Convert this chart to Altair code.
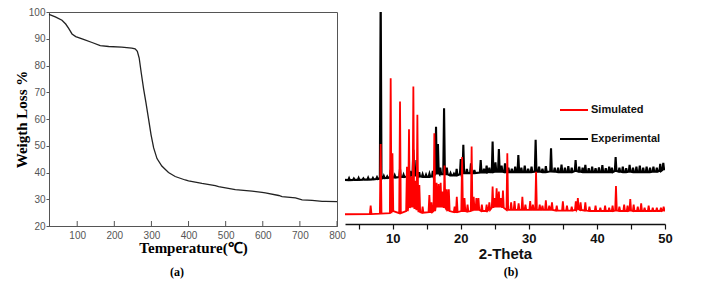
import altair as alt
import pandas as pd

# ---------------- Panel (a): TGA curve ----------------
temp_c = [24, 41, 59, 69, 77, 86, 96, 117, 140, 162, 185, 220, 247, 256, 262, 267, 272.5,
          279, 285, 292, 299, 306, 315, 328, 346, 364, 391, 400, 436, 472, 481, 526, 571,
          598, 607, 643, 652, 688, 706, 733, 760, 769, 800]
weight_pct = [99.1, 98.2, 96.9, 95.5, 93.9, 91.8, 90.8, 89.8, 88.6, 87.4, 87.1, 86.9, 86.5,
              86.2, 85.3, 82.8, 77.3, 71.2, 66.3, 60.2, 54.1, 49.2, 45.2, 42.4, 40.0, 38.5,
              37.2, 36.9, 35.9, 35.1, 34.7, 33.6, 33.0, 32.6, 32.4, 31.4, 31.0, 30.5, 29.8,
              29.6, 29.2, 29.2, 29.1]
temp_ticks = [100, 200, 300, 400, 500, 600, 700, 800]
weight_ticks = [20, 30, 40, 50, 60, 70, 80, 90, 100]

# ---------------- Panel (b): XRD patterns (peak position, apex, local base) ----------------
sim_pos = [6.77, 8.24, 9.71, 9.97, 11.08, 12.1, 12.4, 12.72, 13.04, 13.32, 13.63, 13.92, 14.4,
           15.39, 15.7, 16.12, 16.45, 16.75, 17.05, 17.35, 17.62, 17.95, 18.25, 19.1, 19.42,
           20.2, 20.55, 21.0, 21.6, 21.9, 22.3, 22.6, 23.1, 23.8, 24.2, 24.68, 24.98, 25.27,
           25.6, 25.9, 26.2, 26.84, 27.4, 27.9, 28.5, 29.05, 29.5, 30.2, 30.6, 31.06, 31.6,
           32.0, 32.5, 33.0, 33.4, 34.1, 35.0, 35.6, 36.3, 36.9, 37.2, 37.6, 38.3, 38.9, 39.8,
           40.5, 41.2, 41.8, 42.3, 42.8, 43.3, 44.0, 44.5, 44.9, 45.4, 46.0, 46.5, 47.0, 47.6,
           48.2, 48.8, 49.4, 49.8]
sim_peak = [8.5, 37, 67.4, 32.7, 56.6, 26.5, 43.8, 22, 63.6, 20, 50.5, 18, 8,
            13.4, 10, 42, 19, 18.5, 19, 15, 27, 16, 16, 8, 12.6,
            31, 12, 9, 35.8, 12.6, 12, 12, 9, 9, 10, 17.3, 12, 16.5,
            15, 12, 15.5, 32.7, 10, 10.6, 9.5, 12.6, 9, 10.6, 9, 24.2, 9,
            8.5, 11, 8.5, 10, 8.5, 10.5, 8.5, 8, 10.5, 12, 10, 10, 8, 8.5,
            7.5, 8.5, 7.5, 8.5, 17.6, 8, 9, 8.5, 11.5, 9, 8, 9.5, 7.5, 8.5,
            7.5, 7.5, 7.5, 8]
sim_base = [4.6, 4.8, 5.0, 6.0, 5.0, 6.0, 7.5, 8.0, 8.0, 7.0, 6.5, 5.5, 5.2,
            5.5, 5.5, 6.0, 8.0, 8.0, 8.0, 8.0, 7.5, 7.0, 6.0, 5.5, 5.5,
            6.0, 6.0, 5.8, 6.0, 6.5, 6.5, 6.5, 6.0, 6.0, 6.5, 7.5, 8.0, 8.0,
            8.0, 8.0, 7.5, 6.5, 6.5, 6.5, 6.5, 6.5, 6.5, 6.5, 6.5, 6.5, 6.5,
            6.5, 6.5, 6.5, 6.5, 6.2, 6.2, 6.2, 6.2, 6.5, 6.8, 6.5, 6.2, 6.0, 6.0,
            6.0, 6.0, 6.0, 6.0, 6.2, 6.0, 6.0, 6.0, 6.2, 6.0, 6.0, 6.0, 6.0, 6.0,
            6.0, 6.0, 6.0, 6.2]
sim_ends = [(3.0, 4.5), (50.0, 6.2)]

exp_pos = [3.6, 4.3, 5.0, 5.7, 6.4, 7.1, 7.7, 8.24, 8.7, 9.2, 9.71, 10.3, 11.08, 11.6, 12.3,
           12.6, 13.04, 13.5, 13.9, 14.4, 14.9, 15.4, 15.9, 16.37, 16.65, 17.0, 17.55, 17.95,
           18.5, 19.0, 19.4, 20.0, 20.38, 20.9, 21.5, 22.0, 22.93, 23.4, 23.8, 24.2, 24.68,
           25.1, 25.6, 26.0, 26.5, 27.0, 27.5, 28.0, 28.46, 28.9, 29.4, 29.9, 30.4, 31.0,
           31.5, 32.0, 32.5, 33.26, 33.8, 34.3, 34.8, 35.3, 35.8, 36.3, 36.87, 37.4, 37.9,
           38.3, 38.8, 39.3, 39.8, 40.3, 40.8, 41.3, 41.8, 42.2, 42.75, 43.3, 43.8, 44.3,
           44.8, 45.3, 45.8, 46.3, 46.8, 47.3, 47.8, 48.3, 48.8, 49.3, 49.75]
exp_peak = [21.2, 21.0, 21.3, 21.1, 21.4, 21.3, 21.6, 110, 22.2, 22.0, 25.0, 22.5, 25.5, 22.8, 26,
            24.5, 34.3, 29.6, 24.0, 23.0, 22.8, 23.2, 24.5, 45, 37, 26, 53.5, 26,
            23.5, 23.2, 25.5, 30, 36.6, 25.5, 28, 25, 29.6, 25.5, 27, 26, 38.1,
            28.5, 34.6, 27, 28, 26, 25.5, 26.5, 31.9, 26, 27, 25.5, 26.5, 38.9,
            26.5, 25.5, 26.8, 35, 26, 26, 27.5, 26, 26.8, 26, 29.6, 26.5, 26,
            27.3, 25.8, 26.5, 25.8, 26.2, 27.2, 25.8, 26.5, 26, 30.9, 26, 26.5, 25.8,
            27.3, 26, 26.5, 27, 26, 26.5, 26, 26.5, 26, 27.8, 28.3]
exp_base = [20.3, 20.4, 20.4, 20.5, 20.5, 20.6, 20.8, 21.0, 21.2, 21.3, 21.5, 21.5, 21.7, 21.7, 22.0,
            22.3, 22.5, 22.5, 22.0, 21.8, 21.8, 21.8, 22.0, 23.0, 23.5, 23.0, 23.0, 23.0,
            22.5, 22.5, 22.5, 23.0, 23.5, 23.5, 23.5, 23.5, 23.8, 23.8, 23.8, 24.0, 24.0,
            24.2, 24.2, 24.2, 24.0, 24.0, 24.0, 24.0, 24.0, 24.0, 24.0, 24.0, 24.0, 24.2,
            24.2, 24.0, 24.0, 24.3, 24.2, 24.0, 24.0, 24.0, 24.0, 24.0, 24.5, 24.2, 24.0,
            24.0, 24.0, 24.0, 24.0, 24.0, 24.0, 24.0, 24.0, 24.0, 24.5, 24.2, 24.0, 24.0,
            24.2, 24.0, 24.0, 24.0, 24.0, 24.0, 24.0, 24.2, 24.2, 24.5, 25.0]
exp_ends = [(3.0, 20.4), (50.0, 26.0)]

theta_ticks = [5, 10, 15, 20, 25, 30, 35, 40, 45, 50]
series_names = ["Simulated", "Experimental"]
series_colors = ["#ff0000", "#000000"]


def pattern(name, ends, pos, peak, base, half=0.12):
    xs, ys = [ends[0][0]], [ends[0][1]]
    for p, h, b in zip(pos, peak, base):
        xs += [p - half, p, p + half]
        ys += [b, h, b]
    xs.append(ends[1][0])
    ys.append(ends[1][1])
    return pd.DataFrame({"theta": xs, "intensity": ys, "series": name})


sim_df = pattern("Simulated", sim_ends, sim_pos, sim_peak, sim_base)
exp_df = pattern("Experimental", exp_ends, exp_pos, exp_peak, exp_base)

SERIF = "Liberation Serif"
SANS = "Liberation Sans"

# ---------- panel (a) ----------
WA, HA = 288, 214
a_df = pd.DataFrame({"T": temp_c, "W": weight_pct})
xa = alt.X("T:Q", scale=alt.Scale(domain=[24, 800], nice=False, zero=False),
           axis=alt.Axis(values=temp_ticks, title="Temperature(℃)", labelFont=SANS,
                         labelFontSize=10, labelColor="#555555", labelFlush=False,
                         tickSize=0, labelPadding=4, domainColor="#555555",
                         titleFont=SERIF, titleFontSize=15, titleFontWeight="bold",
                         titleColor="#000000", titlePadding=0))
line_a = alt.Chart(a_df).mark_line(color="#222222", strokeWidth=1.3).encode(
    x=xa,
    y=alt.Y("W:Q", scale=alt.Scale(domain=[20, 100], nice=False, zero=False),
            axis=alt.Axis(values=weight_ticks, title="Weigth Loss %", labelFont=SANS,
                          labelFontSize=10, labelColor="#555555", tickSize=3,
                          tickColor="#555555", domainColor="#555555", labelPadding=1,
                          titleFont=SERIF, titleFontSize=15, titleFontWeight="bold",
                          titleColor="#000000", titlePadding=-1)),
)
ticks_a = alt.Chart(pd.DataFrame({"T": temp_ticks})).mark_rule(color="#555555").encode(
    x=alt.X("T:Q"), y=alt.value(HA), y2=alt.value(HA - 5))
label_a = alt.Chart(pd.DataFrame({"lab": ["(a)"]})).mark_text(
    font=SERIF, fontSize=12, fontWeight="bold", color="#000000").encode(
    x=alt.value(128), y=alt.value(260), text="lab:N")
panel_a = alt.layer(line_a, ticks_a, label_a).properties(
    width=WA, height=HA, view=alt.ViewBackground(stroke="#555555", strokeWidth=1))

# ---------- panel (b) ----------
WB, HB = 320, 212
xb = alt.X("theta:Q", scale=alt.Scale(domain=[3, 50], nice=False, zero=False),
           axis=alt.Axis(values=theta_ticks, title="2-Theta",
                         labelExpr="datum.value % 10 == 0 ? datum.label : ''",
                         labelFont=SANS, labelFontSize=13, labelFontWeight="bold",
                         labelColor="#111111", labelFlush=False, tickSize=5,
                         tickColor="#111111", tickWidth=1.2, domainColor="#111111",
                         domainWidth=1.6, labelPadding=3, titleFont=SANS,
                         titleFontSize=15, titleFontWeight="bold", titleColor="#111111",
                         titlePadding=1))
yb = alt.Y("intensity:Q", scale=alt.Scale(domain=[0, 98], nice=False, zero=False), axis=None)
cb = alt.Color("series:N", scale=alt.Scale(domain=series_names, range=series_colors),
               legend=alt.Legend(title=None, orient="none", legendX=510, legendY=83,
                                 symbolType="stroke", symbolSize=784, symbolStrokeWidth=2,
                                 labelFont=SANS, labelFontSize=11, labelFontWeight="bold",
                                 labelColor="#111111", labelOffset=2, rowPadding=9))
exp_line = alt.Chart(exp_df).mark_line(strokeWidth=2.1, clip=True).encode(x=xb, y=yb, color=cb)
sim_line = alt.Chart(sim_df).mark_line(strokeWidth=1.8, clip=True).encode(x=xb, y=yb, color=cb)
label_b = alt.Chart(pd.DataFrame({"lab": ["(b)"]})).mark_text(
    font=SERIF, fontSize=12, fontWeight="bold", color="#000000").encode(
    x=alt.value(166), y=alt.value(260), text="lab:N")
panel_b = alt.layer(exp_line, sim_line, label_b).properties(
    width=WB, height=HB, view=alt.ViewBackground(strokeOpacity=0))

chart = alt.hconcat(panel_a, panel_b, spacing=8, bounds="flush").configure(
    padding={"left": 5, "top": -2, "right": 0, "bottom": 0}, background="#ffffff"
).configure_axis(grid=False)

chart.save("out.html", embed_options={"renderer": "svg", "actions": False})
